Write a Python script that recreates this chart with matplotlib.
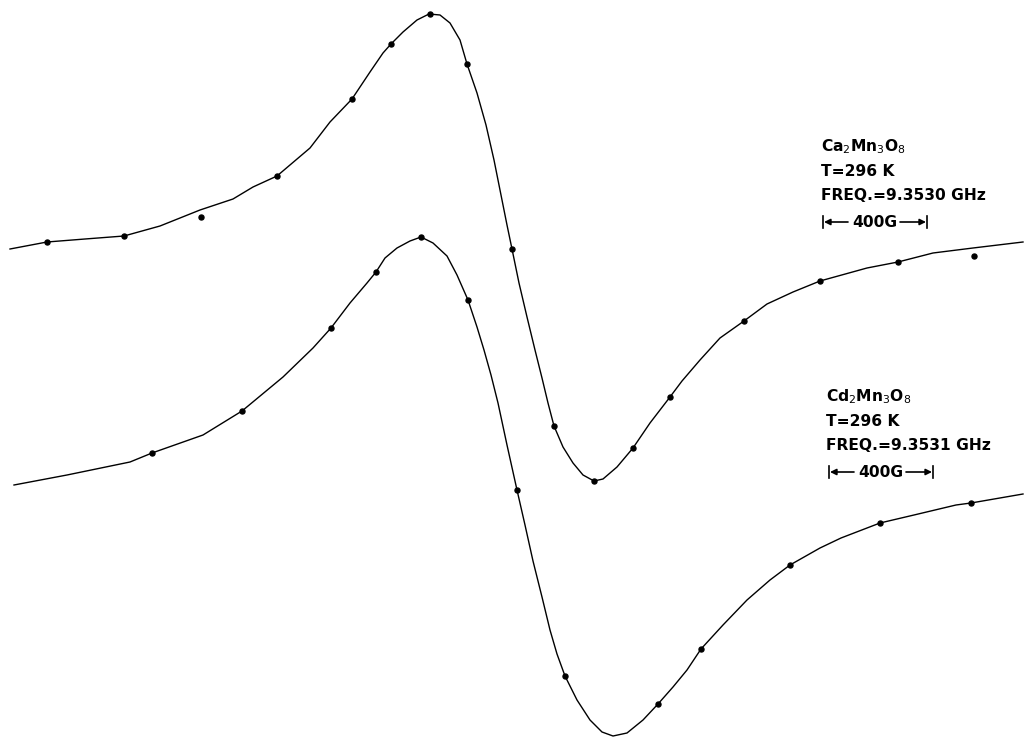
import matplotlib.pyplot as plt

# Ca2Mn3O8 derivative trace (field position, signal) in chart units
ca_trace_x = [10, 47, 85, 124, 160, 200, 233, 253, 277, 310, 330, 352, 370, 383, 391, 403, 417, 429,
              440, 450, 460, 467, 477, 486, 494, 501, 507, 512, 519, 527, 535, 542, 548, 554, 563,
              573, 583, 594, 603, 617, 633, 650, 670, 682, 700, 720, 744, 767, 793, 820, 867, 898,
              933, 973, 1023]
ca_trace_y = [249, 242, 239, 236, 226, 210, 199, 187, 176, 148, 122, 99, 72, 53, 44, 32, 20, 14,
              15, 23, 40, 64, 93, 125, 160, 195, 225, 249, 283, 317, 350, 378, 403, 426, 447,
              463, 475, 481, 479, 467, 448, 423, 397, 381, 360, 338, 321, 304, 292, 281, 268, 262,
              253, 248, 242]
# calculated points for Ca2Mn3O8
ca_dots_x = [47, 124, 201, 277, 352, 391, 430, 467, 512, 554, 594, 633, 670, 744, 820, 898, 974]
ca_dots_y = [242, 236, 217, 176, 99, 44, 14, 64, 249, 426, 481, 448, 397, 321, 281, 262, 256]

# Cd2Mn3O8 derivative trace
cd_trace_x = [14, 67, 130, 152, 203, 242, 283, 313, 331, 350, 367, 376, 385, 397, 410, 421, 433, 447,
              457, 468, 477, 484, 491, 498, 507, 517, 525, 533, 542, 550, 557, 565, 577, 590, 602,
              613, 627, 643, 658, 673, 687, 701, 723, 747, 770, 790, 820, 841, 880, 914, 956, 971,
              1023]
cd_trace_y = [485, 475, 462, 453, 435, 411, 377, 348, 328, 303, 283, 272, 258, 248, 241, 237, 243, 256,
              275, 300, 327, 350, 375, 403, 445, 490, 525, 561, 597, 630, 654, 676, 700, 720, 732,
              736, 733, 720, 704, 687, 670, 649, 625, 600, 580, 565, 548, 538, 523, 515, 505, 503,
              494]
# calculated points for Cd2Mn3O8
cd_dots_x = [152, 242, 331, 376, 421, 468, 517, 565, 658, 701, 790, 880, 971]
cd_dots_y = [453, 411, 328, 272, 237, 300, 490, 676, 704, 649, 565, 523, 503]

ca_label = ['Ca$_2$Mn$_3$O$_8$', 'T=296 K', 'FREQ.=9.3530 GHz']
cd_label = ['Cd$_2$Mn$_3$O$_8$', 'T=296 K', 'FREQ.=9.3531 GHz']
scale_text = '400G'

fig = plt.figure(figsize=(10.25, 7.37), dpi=100)
ax = fig.add_axes([0, 0, 1, 1])
ax.set_xlim(0, 1025)
ax.set_ylim(737, 0)
ax.axis('off')

for tx, ty, dx, dy in [(ca_trace_x, ca_trace_y, ca_dots_x, ca_dots_y),
                       (cd_trace_x, cd_trace_y, cd_dots_x, cd_dots_y)]:
    ax.plot(tx, ty, color='black', lw=1.0, solid_joinstyle='round')
    ax.plot(dx, dy, 'o', color='black', ms=3.6)


def label_block(x, y, lines, bar_x0, bar_x1):
    steps = [0, 24, 48]
    for s, t in zip(steps, lines):
        ax.text(x, y + s, t, fontsize=11.2, fontweight='bold', va='center', ha='left',
                color='black', family='DejaVu Sans')
    yb = y + 75
    ax.text((bar_x0 + bar_x1) / 2, yb, scale_text, fontsize=11.2, fontweight='bold',
            va='center', ha='center', color='black')
    # end bars and arrows of the 400 G scale marker
    for xb in (bar_x0, bar_x1):
        ax.plot([xb, xb], [yb - 6, yb + 6], color='black', lw=1.2)
    ax.annotate('', xy=(bar_x0 + 1, yb), xytext=(bar_x0 + 25, yb),
                arrowprops=dict(arrowstyle='-|>', color='black', lw=1.2,
                                mutation_scale=9, shrinkA=0, shrinkB=0))
    ax.annotate('', xy=(bar_x1 - 1, yb), xytext=(bar_x1 - 27, yb),
                arrowprops=dict(arrowstyle='-|>', color='black', lw=1.2,
                                mutation_scale=9, shrinkA=0, shrinkB=0))


label_block(821, 147, ca_label, 823, 927)
label_block(826, 397, cd_label, 829, 933)

fig.savefig('out.png', dpi=100, facecolor='white')
